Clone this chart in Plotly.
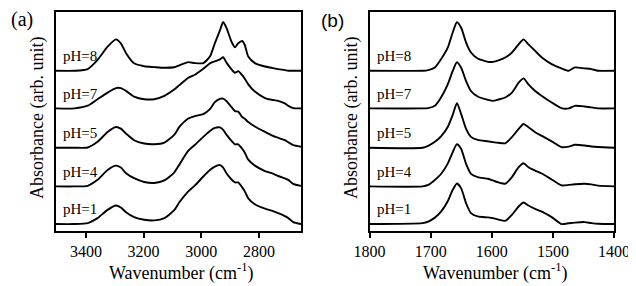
import plotly.graph_objects as go

# ---------------- data ----------------
ph_labels = ["pH=1", "pH=4", "pH=5", "pH=7", "pH=8"]

wn_a = [3504, 3440, 3394, 3360, 3325, 3296, 3279, 3261, 3233, 3198, 3163, 3128, 3094, 3076,
        3045, 3022, 2993, 2970, 2953, 2935, 2924, 2912, 2895, 2883, 2872, 2858, 2849, 2837,
        2814, 2779, 2756, 2733, 2710, 2698, 2681, 2654]

abs_a_ph1 = [0, 0, 1, 6, 14.3, 18.7, 16.7, 12, 7, 4.3, 3.7, 6, 14, 22,
             33, 39, 48, 54.5, 58, 59.5, 57, 51, 45, 42, 42, 37, 33, 26,
             20, 15.5, 13.5, 11, 8, 6, 2, 0]
abs_a_ph4 = [0, 0, 0.6, 6.6, 16.6, 21, 19, 13.3, 8.3, 4.5, 3.5, 6, 14, 22,
             36, 42, 50, 56, 59, 59.5, 57, 52, 46, 42.5, 42.5, 38, 34, 27,
             21, 15.5, 13.3, 10.5, 8, 6.6, 2.5, 0.5]
abs_a_ph5 = [0, 0, 0.3, 6, 16, 21, 19.3, 14.3, 7.6, 4.3, 3.6, 5.3, 13, 21,
             29.5, 32, 34, 39, 46, 49.3, 49.5, 47, 41, 37, 36.5, 31, 29.3, 26,
             21.5, 16, 12.6, 10, 7.6, 5.5, 2.6, 1]
abs_a_ph7 = [0, 0, 2.7, 9.3, 16, 20.5, 20.5, 17.7, 12, 9.3, 9.3, 12.7, 19, 23.5,
             31, 34, 40, 45.5, 47.5, 49.5, 51.6, 46, 39.5, 36, 37.6, 33.5, 30, 24.3,
             17, 10.5, 8.8, 7.6, 5, 2.6, 0.3, 0]
abs_a_ph8 = [0, 0, 1.7, 11, 24.3, 31.7, 27.7, 17.7, 7.5, 4.5, 3.7, 3, 3.5, 5.5,
             8.7, 7.7, 7.7, 14.3, 27.7, 41, 49.3, 42.7, 29.3, 23.7, 27.7, 30, 26, 14.3,
             7.7, 4.3, 3, 1.7, 0.7, 0, 0, 0]

wn_b = [1800, 1713, 1704, 1693, 1683, 1672, 1664, 1657, 1650, 1642, 1634, 1623, 1606, 1598,
        1589, 1578, 1567, 1556, 1548, 1540, 1529, 1518, 1502, 1486, 1474, 1464, 1448, 1437,
        1426, 1400]

abs_b_ph1 = [0, 1, 2.5, 6.5, 12.5, 23, 34.3, 41, 36, 21, 11, 7.7, 6.7, 6,
             4.5, 3.3, 9.3, 17.7, 21.7, 18.7, 15.3, 12.5, 7, 0, 0.8, 1.5, 2, 1,
             0.3, 0]
abs_b_ph4 = [0, 0, 1.5, 6.5, 12.5, 23, 34.4, 42.7, 37.7, 22.7, 12.7, 9.4, 7.7, 6,
             4, 2.7, 9.4, 19.4, 23.4, 19.4, 16, 13, 7, 1, 1.5, 2.2, 2.7, 2,
             0.8, 0]
abs_b_ph5 = [0, 0, 2, 6, 11.5, 21, 33, 45, 34, 19, 11, 8, 6.5, 5.7,
             5, 4.5, 10.7, 19, 24, 20.7, 15.7, 12, 6.5, 0.7, 1.2, 3, 2.3, 1.3,
             0.7, 0]
abs_b_ph7 = [0, 0, 0.3, 2.6, 11, 24.3, 37.6, 46.6, 41, 27.6, 17.6, 12, 8.6, 7.6,
             9, 11, 16, 26, 30.3, 24.3, 17.6, 12.6, 6, 0.3, 0, 2.6, 2, 1,
             0, 0]
abs_b_ph8 = [0, 0, 0.7, 3.4, 11.7, 23.4, 38.4, 49, 43.4, 28.4, 18.4, 12.4, 9, 9,
             10.5, 13.4, 18.4, 26.7, 31.7, 26.7, 20, 13.4, 6.7, 2.4, 0, 3.4, 2.4, 1.7,
             0, 0]

# vertical stacking offsets (arb. units) for pH=1,4,5,7,8
offsets = [7, 45, 84, 123.7, 161.7]

ticks_a = [3400, 3200, 3000, 2800]
ticks_b = [1800, 1700, 1600, 1500, 1400]

# ---------------- layout geometry ----------------
# page body has an 8px margin; figure is sized to fill the rest of the window
PAGE_OFF = 8
W, H = 636 - PAGE_OFF, 286 - PAGE_OFF
PLOT_L, PLOT_R, PLOT_T, PLOT_B = 56, 614, 10, 231   # in window pixels
ML = PLOT_L - PAGE_OFF
MT = PLOT_T - PAGE_OFF
MR = 636 - PLOT_R
MB = 286 - PLOT_B
PW, PH = W - ML - MR, H - MT - MB

def px(x):
    return (x - PLOT_L) / PW

def py(y):
    return (PLOT_B - y) / PH

SERIF = "Liberation Serif, Times New Roman, serif"
BLACK = "#000000"

fig = go.Figure()

spectra_a = [abs_a_ph1, abs_a_ph4, abs_a_ph5, abs_a_ph7, abs_a_ph8]
spectra_b = [abs_b_ph1, abs_b_ph4, abs_b_ph5, abs_b_ph7, abs_b_ph8]

for lab, off, sa, sb in zip(ph_labels, offsets, spectra_a, spectra_b):
    fig.add_trace(go.Scatter(x=wn_a, y=[v + off for v in sa], mode="lines",
                             line=dict(color=BLACK, width=1.9, shape="spline", smoothing=0.6),
                             xaxis="x", yaxis="y", showlegend=False, name=lab))
    fig.add_trace(go.Scatter(x=wn_b, y=[v + off for v in sb], mode="lines",
                             line=dict(color=BLACK, width=1.9, shape="spline", smoothing=0.6),
                             xaxis="x2", yaxis="y2", showlegend=False, name=lab))

axis_common = dict(showline=True, linecolor=BLACK, linewidth=1.9, mirror=True,
                   showgrid=False, zeroline=False)

annotations = []
for lab, off in zip(ph_labels, offsets):
    annotations.append(dict(x=3487, y=off + 15, xref="x", yref="y", text=lab,
                            showarrow=False, xanchor="left", yanchor="middle",
                            font=dict(family=SERIF, size=15, color=BLACK)))
    annotations.append(dict(x=1791, y=off + 15, xref="x2", yref="y2", text=lab,
                            showarrow=False, xanchor="left", yanchor="middle",
                            font=dict(family=SERIF, size=15, color=BLACK)))

# panel letters
annotations.append(dict(x=px(22), y=py(18), xref="paper", yref="paper", text="(a)",
                        showarrow=False, xanchor="center", yanchor="middle",
                        font=dict(family=SERIF, size=20, color=BLACK)))
annotations.append(dict(x=px(332), y=py(19), xref="paper", yref="paper", text="(b)",
                        showarrow=False, xanchor="center", yanchor="middle",
                        font=dict(family="Liberation Sans, Arial, sans-serif", size=19, color=BLACK)))

# axis titles
for cx in (37, 351):
    annotations.append(dict(x=px(cx), y=py(117), xref="paper", yref="paper",
                            text="Absorbance (arb. unit)", textangle=-90,
                            showarrow=False, xanchor="center", yanchor="middle",
                            font=dict(family=SERIF, size=18, color=BLACK)))
for cx in (181, 495.5):
    annotations.append(dict(x=px(cx), y=py(272), xref="paper", yref="paper",
                            text="Wavenumber (cm<sup>-1</sup>)",
                            showarrow=False, xanchor="center", yanchor="middle",
                            font=dict(family=SERIF, size=18, color=BLACK)))

fig.update_layout(
    width=W, height=H,
    margin=dict(l=ML, r=MR, t=MT, b=MB),
    paper_bgcolor="white", plot_bgcolor="white",
    xaxis=dict(domain=[0, px(301)], range=[3504, 2654], tickvals=ticks_a,
               ticks="outside", ticklen=5, tickwidth=1.6, tickcolor=BLACK,
               tickfont=dict(family=SERIF, size=16, color=BLACK), anchor="y", **axis_common),
    yaxis=dict(domain=[0, 1], range=[0, PH], showticklabels=False, ticks="",
               anchor="x", **axis_common),
    xaxis2=dict(domain=[px(369.5), 1], range=[1800, 1400], tickvals=ticks_b,
                ticks="outside", ticklen=5, tickwidth=1.6, tickcolor=BLACK,
                tickfont=dict(family=SERIF, size=16, color=BLACK), anchor="y2", **axis_common),
    yaxis2=dict(domain=[0, 1], range=[0, PH], showticklabels=False, ticks="",
                anchor="x2", **axis_common),
    annotations=annotations,
)

fig.write_html("out.html")
